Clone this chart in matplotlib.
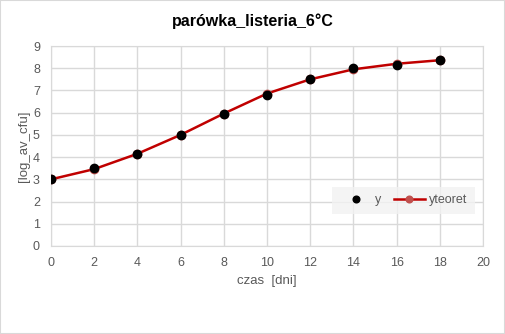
import numpy as np
import matplotlib
matplotlib.use("Agg")
import matplotlib.pyplot as plt
from matplotlib.patches import Rectangle

plt.rcParams['font.family'] = ['Liberation Sans Narrow', 'Liberation Sans', 'DejaVu Sans']

czas = [0, 2, 4, 6, 8, 10, 12, 14, 16, 18]
y = [3.02, 3.52, 4.16, 5.0, 5.95, 6.78, 7.53, 8.03, 8.15, 8.35]
yteoret = [3.0, 3.46, 4.15, 5.0, 5.96, 6.86, 7.5, 7.95, 8.2, 8.36]

fig = plt.figure(figsize=(5.05, 3.34), dpi=100)
fig.patches.append(Rectangle((0, 0), 1, 1, transform=fig.transFigure,
                             fill=False, edgecolor='#d9d9d9', lw=1.5))
ax = fig.add_axes([51/505, 1 - 246/334, 432/505, 200/334])

ax.plot(czas, yteoret, color='#c00000', lw=1.8, marker='o', ms=6,
        mfc='#c0504d', mec='#c0504d', label='yteoret', zorder=3)
ax.plot(czas, y, ls='none', marker='o', ms=6, color='black', label='y', zorder=4)

ax.set_xlim(0, 20)
ax.set_ylim(0, 9)
ax.set_xticks(range(0, 21, 2))
ax.set_yticks(range(0, 10))
ax.grid(True, color='#d9d9d9', lw=1)
ax.set_axisbelow(True)
for s in ax.spines.values():
    s.set_color('#d9d9d9')
ax.tick_params(length=0, colors='#595959', labelsize=9, pad=8)

ax.set_xlabel('czas  [dni]', color='#595959', fontsize=9.5, labelpad=4)
ax.set_ylabel('[log_av_cfu]', color='#595959', fontsize=9.5, labelpad=2)
fig.suptitle('parówka_listeria_6°C', x=0.5, y=0.96, fontsize=11.5,
             fontweight='bold', family='Liberation Sans')

h, l = ax.get_legend_handles_labels()
leg = ax.legend(h[::-1], l[::-1], loc='lower right', bbox_to_anchor=(0.995, 0.13),
                ncol=2, frameon=True, fontsize=9, facecolor='#f2f2f2',
                edgecolor='none', fancybox=False, handlelength=2.5,
                markerscale=0.8, columnspacing=1.0, handletextpad=0.3,
                borderpad=0.6)
for t in leg.get_texts():
    t.set_color('#595959')

fig.savefig('out.png', dpi=100)
